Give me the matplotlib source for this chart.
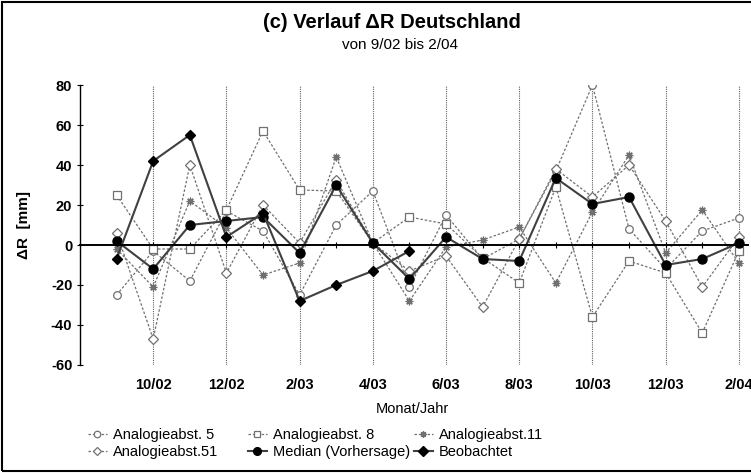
import numpy as np
import matplotlib
matplotlib.use("Agg")
import matplotlib.pyplot as plt
from matplotlib.patches import Rectangle

months = ['9/02', '10/02', '11/02', '12/02', '1/03', '2/03', '3/03', '4/03', '5/03',
          '6/03', '7/03', '8/03', '9/03', '10/03', '11/03', '12/03', '1/04', '2/04']
labeled = ['10/02', '12/02', '2/03', '4/03', '6/03', '8/03', '10/03', '12/03', '2/04']

analog5 = [-25, -3, -18, 17, 7, -25, 10, 27, -21, 15, -7, 3, 37, 80, 8, -12, 7, 13.5]
analog8 = [25, -2, -2, 17.5, 57, 27.5, 27, 1, 14, 10.5, -6.5, -19, 29, -36, -8, -14, -44, -3]
analog11 = [-2, -21, 22, 8.5, -15, -9, 44, 1, -28, -1, 2.5, 9, -19, 16.5, 45, -4, 17.5, -9]
analog51 = [6, -47, 40, -14, 20, 1, 32.5, 1, -13, -5.5, -31, 3, 38, 24, 40, 12, -21, 4]
median = [2, -12, 10, 12, 14, -4, 30, 1, -17, 4, -7, -8, 33.5, 20.5, 24, -10, -7, 1]
beob = [-7, 42, 55, 4, 16, -28, -20, -13, -3]

plt.rcParams['font.family'] = ['Liberation Sans', 'DejaVu Sans']

fig = plt.figure(figsize=(7.51, 4.73), dpi=100)
ax = fig.add_axes([80/751, 1-365/473, 668/751, 280/473])

x = np.arange(len(months))
gray = '#707070'
dkw = dict(color=gray, lw=0.9, ls=(0, (2, 1.5)), markersize=5.5,
           markerfacecolor='white', markeredgecolor=gray, markeredgewidth=0.9)
l5, = ax.plot(x, analog5, marker='o', label='Analogieabst. 5', **dkw)
l8, = ax.plot(x, analog8, marker='s', label='Analogieabst. 8', **dkw)
l11, = ax.plot(x, analog11, marker=(8, 2, 0), label='Analogieabst.11', **dkw)
l51, = ax.plot(x, analog51, marker='D', label='Analogieabst.51',
               **{**dkw, 'markersize': 5})
lm, = ax.plot(x, median, marker='o', color='#404040', lw=1.5, markersize=6.5,
              markerfacecolor='black', markeredgecolor='black', label='Median (Vorhersage)')
lb, = ax.plot(x[:len(beob)], beob, marker='D', color='#404040', lw=1.5, markersize=5.5,
              markerfacecolor='black', markeredgecolor='black', label='Beobachtet')

ax.set_xlim(-1.0, 17.25)
ax.set_ylim(-60, 80)

# vertical dotted lines at labeled months
lab_idx = [months.index(m) for m in labeled]
ax.vlines(lab_idx, -60, 80, colors='#606060', linestyles=(0, (1, 1)), lw=0.8, zorder=0)

ax.spines['top'].set_visible(False)
ax.spines['right'].set_visible(False)
ax.spines['bottom'].set_position(('data', 0))
ax.spines['bottom'].set_linewidth(1.4)
ax.spines['left'].set_linewidth(1.0)
ax.spines['left'].set_bounds(-60, 80)

ax.set_xticks(lab_idx)
ax.set_xticklabels(labeled, fontweight='bold', fontsize=10.5)
ax.set_xticks(x, minor=True)
ax.tick_params(axis='x', which='both', direction='inout', length=5, width=0.8, pad=93)
ax.set_yticks(np.arange(-60, 81, 20))
ax.set_yticklabels([str(v) for v in np.arange(-60, 81, 20)], fontweight='bold', fontsize=10.5)
ax.tick_params(axis='y', direction='inout', length=5, width=0.8, pad=3)

ax.set_ylabel('ΔR  [mm]', fontweight='bold', fontsize=11, labelpad=14)

fig.text(392/751, 1-22/473, '(c) Verlauf ΔR Deutschland', ha='center', va='center',
         fontweight='bold', fontsize=14.5)
fig.text(400/751, 1-45/473, 'von 9/02 bis 2/04', ha='center', va='center', fontsize=11)
fig.text(412/751, 1-409/473, 'Monat/Jahr', ha='center', va='center', fontsize=10.5)

legkw = dict(loc='upper left', frameon=False, fontsize=10.5, handlelength=1.3,
             handletextpad=0.4, labelspacing=0.2, borderpad=0, borderaxespad=0,
             markerscale=0.85)
cols = [([l5, l51], 88), ([l8, lm], 248), ([l11, lb], 414)]
for hs, xpos in cols:
    lg = fig.legend(hs, [h.get_label() for h in hs],
                    bbox_to_anchor=(xpos/751, 1-428/473), **legkw)

fig.patches.append(Rectangle((2/751, 2/473), 760/751, 469/473, transform=fig.transFigure,
                             fill=False, edgecolor='black', lw=1.5))

fig.savefig('out.png', dpi=100)
